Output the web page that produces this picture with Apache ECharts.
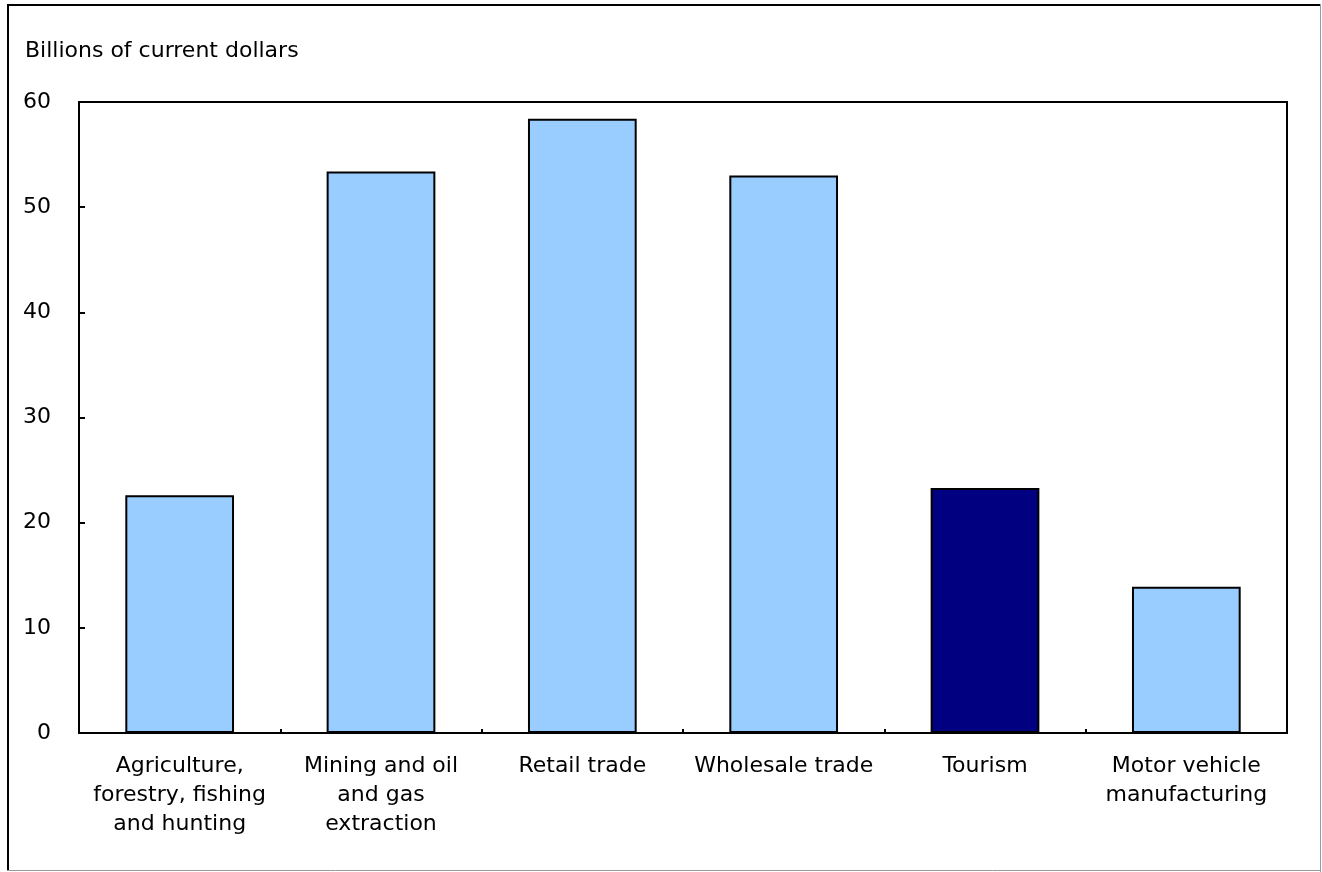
<!DOCTYPE html>
<html>
<head>
<meta charset="utf-8">
<script src="https://cdn.jsdelivr.net/npm/echarts@6/dist/echarts.min.js"></script>
<style>
  html, body { margin: 0; padding: 0; background: #ffffff; }
  #chart { width: 1322px; height: 872px; }
</style>
</head>
<body>
<div id="chart"></div>
<script>
// Industry categories (line breaks as printed under each bar)
const categories = [
  'Agriculture,\nforestry, fishing\nand hunting',
  'Mining and oil\nand gas\nextraction',
  'Retail trade',
  'Wholesale trade',
  'Tourism',
  'Motor vehicle\nmanufacturing'
];
// Billions of current dollars
const values = [22.6, 53.4, 58.4, 53.0, 23.3, 13.9];
// Highlighted category
const highlight = 'Tourism';
const yTicks = [0, 10, 20, 30, 40, 50, 60];

const FONT = 'DejaVu Sans';
const FONT_SIZE = 22;
const LIGHT = '#99ccff';
const DARK = '#000080';

const chart = echarts.init(document.getElementById('chart'), null, { renderer: 'canvas' });

chart.setOption({
  animation: false,
  backgroundColor: '#ffffff',
  textStyle: { fontFamily: FONT },
  grid: {
    left: 79, right: 35, top: 102, bottom: 139,
    show: true, borderColor: '#000000', borderWidth: 2, backgroundColor: 'transparent'
  },
  xAxis: {
    type: 'category',
    data: categories,
    axisLine: { show: true, lineStyle: { color: '#000000', width: 2 } },
    axisTick: { show: true, inside: true, length: 4, lineStyle: { color: '#000000', width: 2 } },
    axisLabel: {
      interval: 0, margin: 19, color: '#000000',
      fontFamily: FONT, fontSize: FONT_SIZE, lineHeight: 29, align: 'center'
    },
    splitLine: { show: false }
  },
  yAxis: {
    type: 'value',
    min: yTicks[0], max: yTicks[yTicks.length - 1], interval: 10,
    axisLine: { show: true, lineStyle: { color: '#000000', width: 2 } },
    axisTick: { show: true, inside: true, length: 6, lineStyle: { color: '#000000', width: 2 } },
    axisLabel: { margin: 28, color: '#000000', fontFamily: FONT, fontSize: FONT_SIZE },
    splitLine: { show: false }
  },
  series: [{
    type: 'bar',
    barWidth: '54%',
    data: values.map((v, i) => ({
      value: v,
      itemStyle: {
        color: categories[i] === highlight ? DARK : LIGHT,
        borderColor: '#000000', borderWidth: 2
      }
    }))
  }],
  graphic: [
    // outer frame
    { type: 'line', shape: { x1: 8, y1: 4, x2: 8, y2: 871 }, style: { stroke: '#000000', lineWidth: 2 } },
    { type: 'line', shape: { x1: 7, y1: 5, x2: 1321, y2: 5 }, style: { stroke: '#000000', lineWidth: 2 } },
    { type: 'line', shape: { x1: 1320.5, y1: 4, x2: 1320.5, y2: 872 }, style: { stroke: '#9a9a9a', lineWidth: 1 } },
    { type: 'line', shape: { x1: 7, y1: 870.5, x2: 1321, y2: 870.5 }, style: { stroke: '#9a9a9a', lineWidth: 1 } },
    // unit title
    {
      type: 'text', left: 25, top: 40,
      style: { text: 'Billions of current dollars', fill: '#000000', font: FONT_SIZE + 'px "DejaVu Sans"' }
    }
  ]
});
</script>
</body>
</html>
